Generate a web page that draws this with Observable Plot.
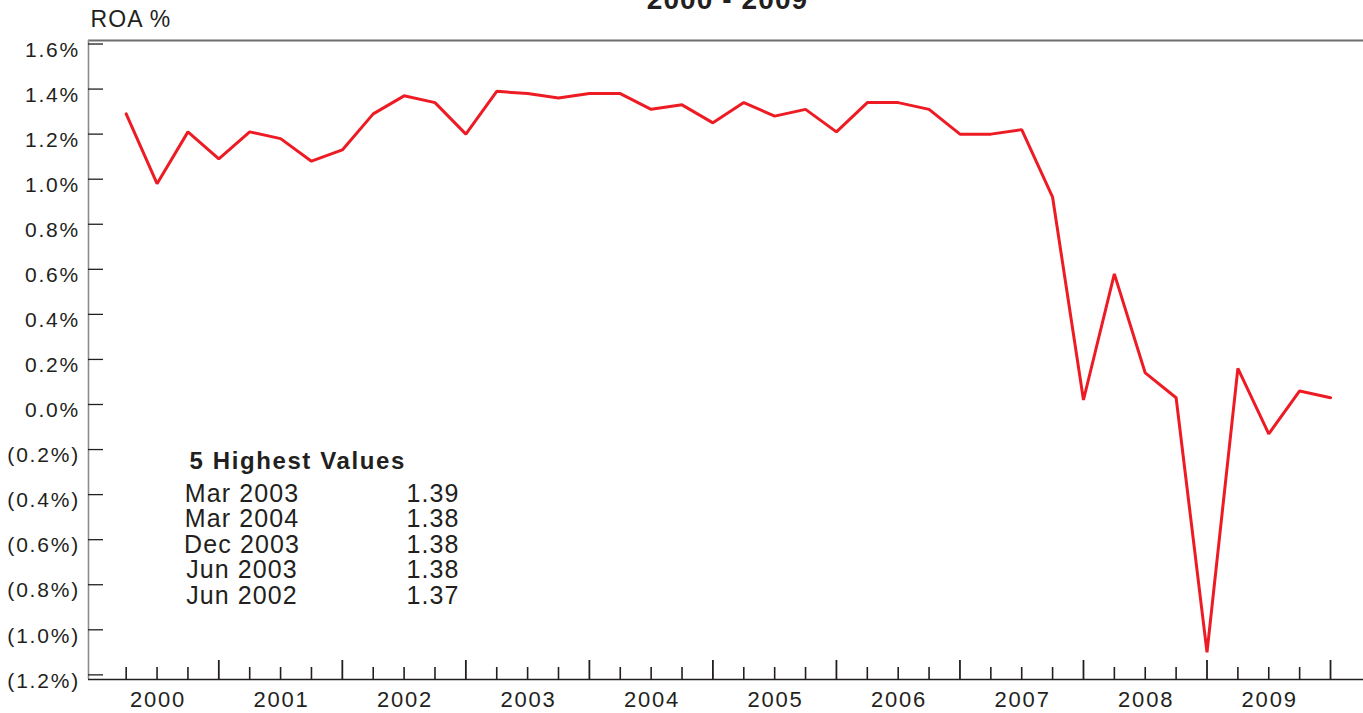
<!DOCTYPE html>
<html>
<head>
<meta charset="utf-8">
<script src="https://cdn.jsdelivr.net/npm/d3@7"></script>
<script src="https://cdn.jsdelivr.net/npm/@observablehq/plot@0.6"></script>
<style>
  html, body { margin: 0; padding: 0; background: #ffffff; overflow: hidden; }
  #chart svg text { letter-spacing: 1.1px; }
  #chart g[aria-label="y-axis tick label"] text,
  #chart g[aria-label="x-axis tick label"] text { letter-spacing: 1.8px; }
</style>
</head>
<body>
<div id="chart"></div>
<script>
// ---- data ----
const years = [2000, 2001, 2002, 2003, 2004, 2005, 2006, 2007, 2008, 2009];
const quarterMonths = ["Mar", "Jun", "Sep", "Dec"];
// quarterly ROA (%) : Mar, Jun, Sep, Dec of each year
const roa = [
  1.29, 0.98, 1.21, 1.09,
  1.21, 1.18, 1.08, 1.13,
  1.29, 1.37, 1.34, 1.20,
  1.39, 1.38, 1.36, 1.38,
  1.38, 1.31, 1.33, 1.25,
  1.34, 1.28, 1.31, 1.21,
  1.34, 1.34, 1.31, 1.20,
  1.20, 1.22, 0.92, 0.02,
  0.58, 0.14, 0.03, -1.10,
  0.16, -0.13, 0.06, 0.03
];
const yTicks = [1.6, 1.4, 1.2, 1.0, 0.8, 0.6, 0.4, 0.2, 0.0, -0.2, -0.4, -0.6, -0.8, -1.0, -1.2];
const yearLabels = ["2000", "2001", "2002", "2003", "2004", "2005", "2006", "2007", "2008", "2009"];
const topDates = ["Mar 2003", "Mar 2004", "Dec 2003", "Jun 2003", "Jun 2002"];
const topValues = ["1.39", "1.38", "1.38", "1.38", "1.37"];
const chartTitle = "2000 - 2009";
const yTitle = "ROA %";
const boxTitle = "5 Highest Values";

// ---- derived tables ----
const series = roa.map((v, i) => ({
  t: years[Math.floor(i / 4)] + ((i % 4) + 1) / 4,
  v,
  label: quarterMonths[i % 4] + " " + years[Math.floor(i / 4)]
}));
const majorTicks = years.map(y => y + 1);
const minorTicks = years.flatMap(y => [0.25, 0.5, 0.75].map(f => y + f));
const labelTicks = yearLabels.map(s => +s + 0.5);

const ink = "#231f20";
const red = "#ed1c24";
const fmtY = d => d < 0 ? `(${Math.abs(d).toFixed(1)}%)` : `${d.toFixed(1)}%`;

const chart = Plot.plot({
  width: 1363,
  height: 713,
  marginLeft: 88,
  marginRight: 0,
  marginTop: 40,
  marginBottom: 34,
  style: { fontFamily: "'Liberation Sans', Arial, Helvetica, sans-serif", color: ink, background: "#ffffff", overflow: "visible" },
  x: { domain: [1999.945, 2010.267], label: null },
  y: { domain: [-1.2206, 1.6156], label: null },
  marks: [
    // frame lines
    Plot.ruleY([1.6156], { stroke: "#6d6d6d", strokeWidth: 2 }),
    Plot.ruleX([1999.945], { stroke: "#8c8c8c", strokeWidth: 1.6 }),
    // y ticks (inward) and labels
    Plot.axisY(yTicks, { tickSize: -15, tickFormat: () => "", stroke: ink, strokeWidth: 1.3, label: null }),
    Plot.axisY(yTicks, { tickSize: 0, tickPadding: 8.5, tickFormat: fmtY, fontSize: 21, dy: 6, fill: ink, label: null }),
    // x axis line and ticks
    Plot.ruleY([-1.2206], { stroke: ink, strokeWidth: 1.6 }),
    Plot.axisX(majorTicks, { tickSize: -19, tickFormat: () => "", stroke: ink, strokeWidth: 1.8, label: null }),
    Plot.axisX(minorTicks, { tickSize: -12, tickFormat: () => "", stroke: ink, strokeWidth: 1.6, label: null }),
    Plot.axisX(labelTicks, { tickSize: 0, tickPadding: 12, tickFormat: d => String(Math.floor(d)), fontSize: 22, dx: 0.9, fill: ink, label: null }),
    // data line
    Plot.line(series, { x: "t", y: "v", stroke: red, strokeWidth: 3, strokeLinejoin: "miter" }),
    // titles
    Plot.text([chartTitle], { text: d => d, frameAnchor: "top", dx: 1.5, dy: -32, lineAnchor: "bottom", fontSize: 28, fontWeight: "bold", fill: ink }),
    Plot.text([yTitle], { text: d => d, frameAnchor: "top-left", dx: 2, dy: -14, lineAnchor: "bottom", textAnchor: "start", fontSize: 23, fill: ink }),
    // annotation box
    Plot.text([boxTitle], { text: d => d, frameAnchor: "top-left", dx: 101, dy: 428.3, lineAnchor: "bottom", textAnchor: "start", fontSize: 24, fontWeight: "bold", fill: ink }),
    Plot.text([topDates.join("\n")], { text: d => d, frameAnchor: "top-left", dx: 153.5, dy: 443, lineAnchor: "top", textAnchor: "middle", lineHeight: 1.02, fontSize: 25, fill: ink }),
    Plot.text([topValues.join("\n")], { text: d => d, frameAnchor: "top-left", dx: 371.1, dy: 443, lineAnchor: "top", textAnchor: "end", lineHeight: 1.02, fontSize: 25, fill: ink })
  ]
});
// slightly wider tracking for the bold box header, as in the reference
d3.select(chart).selectAll("text").filter(function () { return this.textContent === boxTitle; }).style("letter-spacing", "1.6px");
document.getElementById("chart").appendChild(chart);
</script>
</body>
</html>
